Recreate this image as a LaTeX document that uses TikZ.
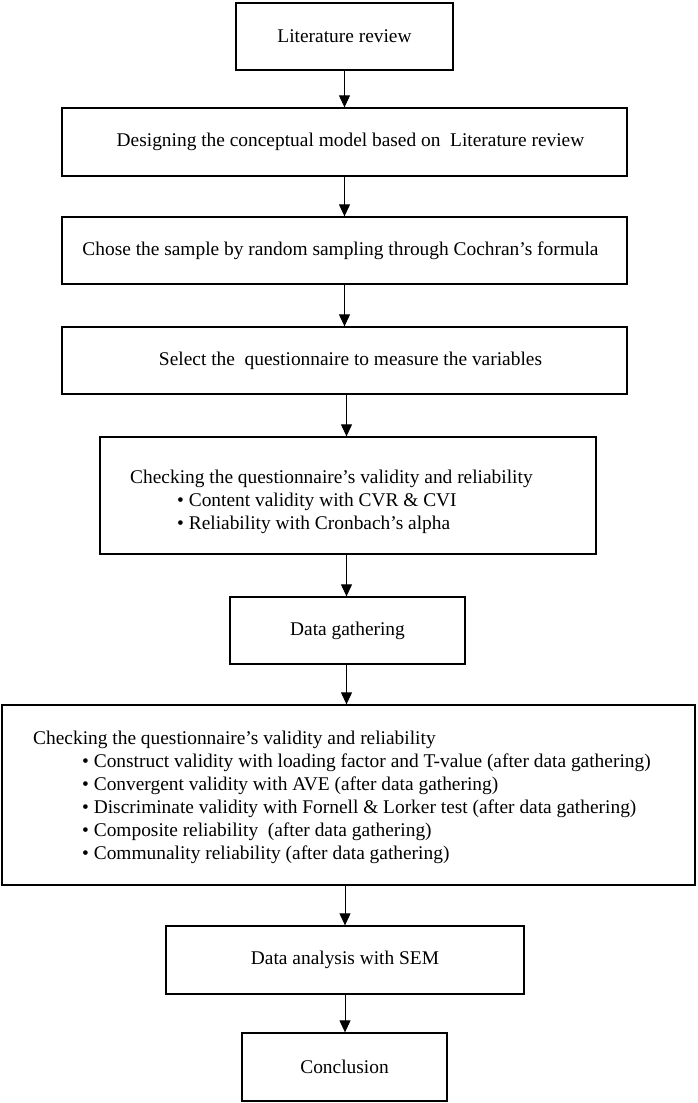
\documentclass[tikz,border=0pt]{standalone}
\usepackage{fontspec}
\setmainfont{Liberation Serif}
\usetikzlibrary{arrows.meta}
\begin{document}
\begin{tikzpicture}[x=1pt,y=-1pt,
  box/.style={draw=black, line width=1.3pt, rectangle, inner sep=0pt},
  lbl/.style={inner sep=0pt, anchor=base west},
  conn/.style={line width=1pt, -{Triangle[length=12pt,width=11pt]}},
  every node/.style={font=\fontsize{19.4}{23}\selectfont}]
\useasboundingbox (0,0) rectangle (697,1103);
% boxes
\node[box, minimum width=217pt, minimum height=67pt] (b1) at (344.5,36.5) {Literature review};
\node[box, minimum width=565pt, minimum height=68pt] (b2) at (344.5,142) {\hspace*{12pt}Designing the conceptual model based on\ \ Literature review};
\node[box, minimum width=565pt, minimum height=67pt] (b3) at (344.5,250.5) {Chose the sample by random sampling through Cochran’s formula\hspace*{8pt}};
\node[box, minimum width=565pt, minimum height=67pt] (b4) at (344.5,360.5) {\hspace*{12pt}Select the\ \ questionnaire to measure the variables};
\node[box, minimum width=496pt, minimum height=117pt] (b5) at (348,495.5) {};
\node[lbl] (b5l1) at (130,483) {Checking the questionnaire’s validity and reliability};
\node[lbl] (b5l2) at (177,506) {•\ Content validity with CVR \& CVI};
\node[lbl] (b5l3) at (177,529) {•\ Reliability with Cronbach’s alpha};
\node[box, minimum width=235pt, minimum height=67pt] (b6) at (347.5,630.5) {Data gathering};
\node[box, minimum width=693pt, minimum height=180pt] (b7) at (348.5,795) {};
\node[lbl] (b7l1) at (33,744) {Checking the questionnaire’s validity and reliability};
\node[lbl] (b7l2) at (82,767) {•\ Construct validity with loading factor and T-value (after data gathering)};
\node[lbl] (b7l3) at (82,790) {•\ Convergent validity with AVE (after data gathering)};
\node[lbl] (b7l4) at (82,813) {•\ Discriminate validity with Fornell \& Lorker test (after data gathering)};
\node[lbl] (b7l5) at (82,836) {•\ Composite reliability\ \ (after data gathering)};
\node[lbl] (b7l6) at (82,859) {•\ Communality reliability (after data gathering)};
\node[box, minimum width=358pt, minimum height=68pt] (b8) at (345,960) {Data analysis with SEM};
\node[box, minimum width=205pt, minimum height=68pt] (b9) at (344.5,1067) {Conclusion};
% connectors
\draw[conn] (b1.south) -- (b1.south |- b2.north);
\draw[conn] (b2.south) -- (b2.south |- b3.north);
\draw[conn] (b3.south) -- (b3.south |- b4.north);
\draw[conn] ([xshift=2pt]b4.south) -- ([xshift=2pt]b4.south |- b5.north);
\draw[conn] ([xshift=2pt]b5.south -| b4.south) -- ([xshift=2pt]b4.south |- b6.north);
\draw[conn] ([xshift=2pt]b6.south -| b4.south) -- ([xshift=2pt]b4.south |- b7.north);
\draw[conn] (b7.south -| b8.south) -- (b8.north);
\draw[conn] (b8.south) -- (b8.south |- b9.north);
\end{tikzpicture}
\end{document}
